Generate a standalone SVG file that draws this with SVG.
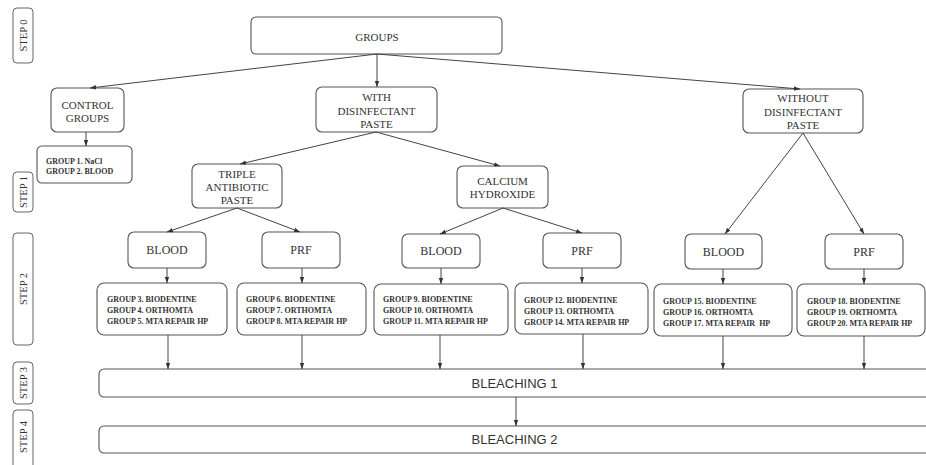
<svg xmlns="http://www.w3.org/2000/svg" width="926" height="465" viewBox="0 0 926 465">
<defs>
<marker id="arr" markerUnits="userSpaceOnUse" markerWidth="6" markerHeight="6" viewBox="0 0 6 6" refX="6" refY="3" orient="auto">
<path d="M0,0.8 L6,3 L0,5.2 Z" fill="#333"/>
</marker>
</defs>
<style>
.box{fill:#fff;stroke:#555;stroke-width:1.1}
.step{fill:#fff;stroke:#666;stroke-width:1}
.lbl{font-family:"Liberation Serif",serif;font-size:11px;fill:#333;text-anchor:middle}
.big{font-size:12px}
.grp{font-family:"Liberation Serif",serif;font-size:8px;font-weight:bold;fill:#333}
.steplbl{font-family:"Liberation Serif",serif;font-size:10.5px;fill:#333;text-anchor:middle}
.bl{font-family:"Liberation Sans",sans-serif;font-size:13px;fill:#333;text-anchor:middle}
.con line{stroke:#444;stroke-width:1;marker-end:url(#arr)}
</style>
<rect width="926" height="465" fill="#fff"/>

<g id="step0"><rect class="step" x="13" y="8" width="20" height="55" rx="4"/><text class="steplbl" transform="translate(26.5,35.5) rotate(-90)">STEP 0</text></g>
<g id="step1"><rect class="step" x="13" y="172" width="20" height="40" rx="4"/><text class="steplbl" transform="translate(26.5,192) rotate(-90)">STEP 1</text></g>
<g id="step2"><rect class="step" x="13" y="233" width="20" height="112" rx="4"/><text class="steplbl" transform="translate(26.5,289) rotate(-90)">STEP 2</text></g>
<g id="step3"><rect class="step" x="13" y="362" width="20" height="42" rx="4"/><text class="steplbl" transform="translate(26.5,383) rotate(-90)">STEP 3</text></g>
<g id="step4"><rect class="step" x="13" y="410" width="20" height="62" rx="4"/><text class="steplbl" transform="translate(26.5,437) rotate(-90)">STEP 4</text></g>

<g id="groups"><rect class="box" x="251" y="17" width="251" height="37" rx="5"/><text class="lbl" x="377" y="40.5" font-size="12.5">GROUPS</text></g>

<g id="control"><rect class="box" x="51" y="88" width="73" height="44" rx="6"/><text class="lbl" x="87.5" y="109">CONTROL</text><text class="lbl" x="87.5" y="122">GROUPS</text></g>
<g id="with"><rect class="box" x="316" y="87" width="121" height="45" rx="6"/><text class="lbl" x="376.5" y="101">WITH</text><text class="lbl" x="376.5" y="114.5">DISINFECTANT</text><text class="lbl" x="376.5" y="128">PASTE</text></g>
<g id="without"><rect class="box" x="743" y="89" width="120" height="44" rx="6"/><text class="lbl" x="803" y="102">WITHOUT</text><text class="lbl" x="803" y="115.5">DISINFECTANT</text><text class="lbl" x="803" y="129">PASTE</text></g>

<g id="g12"><rect class="box" x="37" y="146" width="95" height="37" rx="5"/><text class="grp" x="46" y="163.5">GROUP 1. NaCl</text><text class="grp" x="46" y="173.5">GROUP 2. BLOOD</text></g>

<g id="triple"><rect class="box" x="192" y="164" width="90" height="44" rx="6"/><text class="lbl" x="237" y="178">TRIPLE</text><text class="lbl" x="237" y="191">ANTIBIOTIC</text><text class="lbl" x="237" y="204">PASTE</text></g>
<g id="calcium"><rect class="box" x="457" y="166" width="91" height="42" rx="6"/><text class="lbl" x="502.5" y="185">CALCIUM</text><text class="lbl" x="502.5" y="198">HYDROXIDE</text></g>

<g id="blood1"><rect class="box" x="128" y="232" width="78" height="36" rx="6"/><text class="lbl big" x="167" y="254">BLOOD</text></g>
<g id="prf1"><rect class="box" x="262" y="232" width="78" height="36" rx="6"/><text class="lbl big" x="301" y="254">PRF</text></g>
<g id="blood2"><rect class="box" x="402" y="234" width="78" height="34" rx="6"/><text class="lbl big" x="441" y="255">BLOOD</text></g>
<g id="prf2"><rect class="box" x="543" y="233" width="78" height="35" rx="6"/><text class="lbl big" x="582" y="255">PRF</text></g>
<g id="blood3"><rect class="box" x="685" y="234" width="77" height="35" rx="6"/><text class="lbl big" x="723.5" y="256">BLOOD</text></g>
<g id="prf3"><rect class="box" x="825" y="234" width="78" height="35" rx="6"/><text class="lbl big" x="864" y="256">PRF</text></g>

<g id="g3_5"><rect class="box" x="97" y="283" width="130" height="52" rx="7"/><text class="grp" x="107" y="302">GROUP 3. BIODENTINE</text><text class="grp" x="107" y="313">GROUP 4. ORTHOMTA</text><text class="grp" x="107" y="324">GROUP 5. MTA REPAIR HP</text></g>
<g id="g6_8"><rect class="box" x="237" y="283" width="129" height="52" rx="7"/><text class="grp" x="246" y="302">GROUP 6. BIODENTINE</text><text class="grp" x="246" y="313">GROUP 7. ORTHOMTA</text><text class="grp" x="246" y="324">GROUP 8. MTA REPAIR HP</text></g>
<g id="g9_11"><rect class="box" x="374" y="284" width="134" height="51" rx="7"/><text class="grp" x="383" y="302">GROUP 9. BIODENTINE</text><text class="grp" x="383" y="313">GROUP 10. ORTHOMTA</text><text class="grp" x="383" y="324">GROUP 11. MTA REPAIR HP</text></g>
<g id="g12_14"><rect class="box" x="515" y="283" width="133" height="51" rx="7"/><text class="grp" x="524" y="303">GROUP 12. BIODENTINE</text><text class="grp" x="524" y="314">GROUP 13. ORTHOMTA</text><text class="grp" x="524" y="325">GROUP 14. MTA REPAIR HP</text></g>
<g id="g15_17"><rect class="box" x="654" y="284" width="138" height="52" rx="7"/><text class="grp" x="663" y="304">GROUP 15. BIODENTINE</text><text class="grp" x="663" y="315">GROUP 16. ORTHOMTA</text><text class="grp" x="663" y="326">GROUP 17. MTA REPAIR&#160; HP</text></g>
<g id="g18_20"><rect class="box" x="797" y="284" width="128" height="52" rx="7"/><text class="grp" x="807" y="304">GROUP 18. BIODENTINE</text><text class="grp" x="807" y="315">GROUP 19. ORTHOMTA</text><text class="grp" x="807" y="326">GROUP 20. MTA REPAIR HP</text></g>

<g id="bleaching1"><rect class="box" x="99" y="369" width="840" height="28" rx="5"/><text class="bl" x="514.5" y="388">BLEACHING 1</text></g>
<g id="bleaching2"><rect class="box" x="99" y="426" width="840" height="27" rx="5"/><text class="bl" x="514.5" y="444">BLEACHING 2</text></g>

<g id="connectors" class="con">
<line x1="377" y1="54" x2="90" y2="88"/>
<line x1="377" y1="54" x2="377" y2="87"/>
<line x1="377" y1="54" x2="800" y2="89"/>
<line x1="86" y1="132" x2="86" y2="146"/>
<line x1="376" y1="132" x2="240" y2="164"/>
<line x1="376" y1="132" x2="500" y2="166"/>
<line x1="237" y1="208" x2="167" y2="232"/>
<line x1="237" y1="208" x2="300" y2="232"/>
<line x1="503" y1="208" x2="440" y2="234"/>
<line x1="503" y1="208" x2="582" y2="233"/>
<line x1="803" y1="133" x2="725" y2="234"/>
<line x1="803" y1="133" x2="864" y2="234"/>
<line x1="167" y1="268" x2="167" y2="283"/>
<line x1="302" y1="268" x2="302" y2="283"/>
<line x1="441" y1="268" x2="441" y2="284"/>
<line x1="582" y1="268" x2="582" y2="283"/>
<line x1="723" y1="269" x2="723" y2="284"/>
<line x1="864" y1="269" x2="864" y2="284"/>
<line x1="168" y1="335" x2="168" y2="369"/>
<line x1="302" y1="335" x2="302" y2="369"/>
<line x1="440" y1="335" x2="440" y2="369"/>
<line x1="583" y1="334" x2="583" y2="369"/>
<line x1="723" y1="336" x2="723" y2="369"/>
<line x1="864" y1="336" x2="864" y2="369"/>
<line x1="516" y1="397" x2="516" y2="426"/>
</g>
</svg>
